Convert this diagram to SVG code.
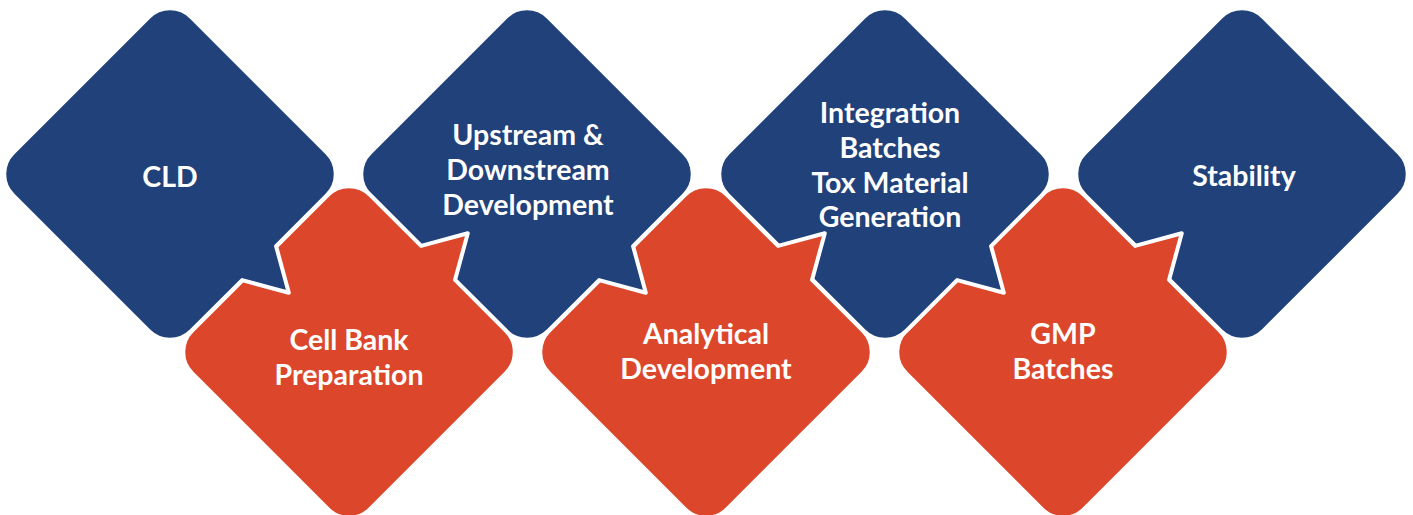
<svg xmlns="http://www.w3.org/2000/svg" width="1413" height="515" viewBox="0 0 1413 515">
<defs>
<style>
.blue{fill:#21417a;stroke:#ffffff;stroke-width:4;stroke-linejoin:round}
.red{fill:#dc462b;stroke:#ffffff;stroke-width:4;stroke-linejoin:round}
.lbl{font-family:Lato,"Liberation Sans",sans-serif;font-weight:bold;font-size:28.5px;fill:#ffffff;text-anchor:middle}
</style>
<path id="tailShape" d="M -96,-126 L 96,-126 A 30 30 0 0 1 126,-96 L 126,-24 L 168,0 L 126,24 L 126,96 A 30 30 0 0 1 96,126 L -96,126 A 30 30 0 0 1 -126,96 L -126,-96 A 30 30 0 0 1 -96,-126 Z"/>
<path id="plainShape" d="M -96,-126 L 96,-126 A 30 30 0 0 1 126,-96 L 126,96 A 30 30 0 0 1 96,126 L -96,126 A 30 30 0 0 1 -126,96 L -126,-96 A 30 30 0 0 1 -96,-126 Z"/>
</defs>
<rect width="1413" height="515" fill="#ffffff"/>
<g id="stability">
<use href="#plainShape" class="blue" transform="translate(1242,174) rotate(45)"/>
<text class="lbl" x="1244" y="186">Stability</text>
</g>
<g id="gmp">
<use href="#tailShape" class="red" transform="translate(1063,352) rotate(-45)"/>
<text class="lbl" x="1063" y="344">GMP</text>
<text class="lbl" x="1063" y="379">Batches</text>
</g>
<g id="integration">
<use href="#tailShape" class="blue" transform="translate(885,174) rotate(45)"/>
<text class="lbl" x="890" y="123">Integration</text>
<text class="lbl" x="890" y="158">Batches</text>
<text class="lbl" x="890" y="193">Tox Material</text>
<text class="lbl" x="890" y="227">Generation</text>
</g>
<g id="analytical">
<use href="#tailShape" class="red" transform="translate(706,352) rotate(-45)"/>
<text class="lbl" x="706" y="344">Analytical</text>
<text class="lbl" x="706" y="379">Development</text>
</g>
<g id="upstream">
<use href="#tailShape" class="blue" transform="translate(527,174) rotate(45)"/>
<text class="lbl" x="528" y="145">Upstream &amp;</text>
<text class="lbl" x="528" y="180">Downstream</text>
<text class="lbl" x="528" y="215">Development</text>
</g>
<g id="cellbank">
<use href="#tailShape" class="red" transform="translate(349,352) rotate(-45)"/>
<text class="lbl" x="349" y="350">Cell Bank</text>
<text class="lbl" x="349" y="385">Preparation</text>
</g>
<g id="cld">
<use href="#tailShape" class="blue" transform="translate(170,174) rotate(45)"/>
<text class="lbl" x="170" y="187">CLD</text>
</g>
<g id="connectors"></g>
</svg>
